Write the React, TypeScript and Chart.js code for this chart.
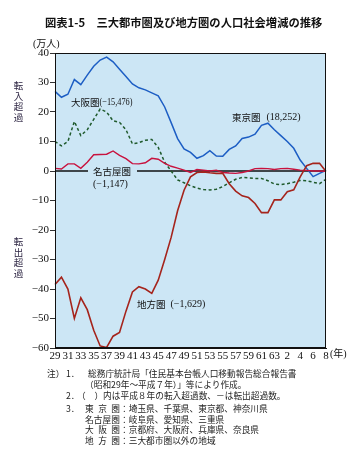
import React, { useEffect, useRef } from 'react';
import { Chart, registerables } from 'chart.js';

Chart.register(...registerables);

// 昭和29年〜昭和63年, 平成1年〜平成8年
const categories = [
  '29', '30', '31', '32', '33', '34', '35', '36', '37', '38', '39', '40', '41', '42', '43', '44', '45',
  '46', '47', '48', '49', '50', '51', '52', '53', '54', '55', '56', '57', '58', '59', '60', '61', '62', '63',
  '1', '2', '3', '4', '5', '6', '7', '8',
];

// 万人
const tokyo = [
  27, 25, 26, 31, 29.3, 32.5, 35.5, 37.6, 38.6, 37, 34.5, 32, 29.5, 28.2, 27.5, 26.5, 25.5, 21.7, 16.4, 11, 7.5,
  6.3, 4.3, 5.2, 6.9, 5.1, 5, 7.3, 8.5, 11, 11.5, 12.5, 15.5, 16.2, 14, 12, 10, 7.7, 3.7, 0.9, -1.9, -0.8, 0.2,
];
const osaka = [
  10, 8.5, 10, 16.8, 12, 14, 17.5, 21, 20, 17, 16.5, 14, 9.2, 9.6, 10.4, 10.7, 8, 3, 0, -3, -4,
  -5, -5.8, -6.3, -6.4, -6.2, -5.3, -4, -2.8, -2.2, -2.3, -2.5, -2.5, -3.3, -4.4, -4.6, -4.3, -3.8, -3.2, -3.3, -3.8, -4.3, -2.8,
];
const nagoya = [
  0.9, 0.7, 2.4, 2.4, 0.9, 3, 5.5, 5.6, 5.7, 6.8, 5.3, 4.2, 2.5, 2.4, 2.8, 4.3, 4, 2.6, 1.6, 1, 0.3,
  -0.5, 0.5, 0.3, 0, 0.3, -0.5, -0.7, -0.8, -0.5, 0, 0.8, 0.9, 0.8, 0.5, 0.8, 0.9, 0.6, 0.3, 0.2, 0, 0, -0.1,
];
const chiho = [
  -38.5, -36, -40, -50, -43, -47, -54, -59.3, -59.8, -56, -54.7, -47.5, -41, -39.2, -40, -41.5, -37, -30, -22.5, -13.5, -6.5,
  -2, -0.5, -0.3, -0.6, -0.8, -0.8, -4.3, -6.8, -8.4, -9, -11, -14.1, -14.1, -9.8, -9.8, -7, -6.4, -2, 1.8, 2.6, 2.6, -0.2,
];

const seriesNames = ['東京圏', '大阪圏', '名古屋圏', '地方圏'];
const seriesNotes = ['(18,252)', '(−15,476)', '(−1,147)', '(−1,629)'];
const yMin = -60;
const yMax = 40;
const yStep = 10;

const SERIF = "'Liberation Serif', 'Noto Sans CJK JP', serif";
const JP = "'Noto Sans CJK JP', sans-serif";
const PLOT_BG = '#cce6f5';

function drawPair(ctx: any, name: string, note: string, x: number, y: number, gap: number, noteW: number) {
  ctx.font = `9.5px ${JP}`;
  ctx.fillText(name, x, y);
  const w = ctx.measureText(name).width;
  ctx.font = `10px ${SERIF}`;
  ctx.fillText(note, x + w + gap, y, noteW);
}

const decor = {
  id: 'decor',
  beforeDraw(chart: any) {
    const { ctx, chartArea: a } = chart;
    ctx.save();
    ctx.fillStyle = PLOT_BG;
    ctx.fillRect(a.left, a.top, a.right - a.left, a.bottom - a.top);
    ctx.restore();
  },
  beforeDatasetsDraw(chart: any) {
    const { ctx, chartArea: a, scales } = chart;
    const y0 = scales.y.getPixelForValue(0);
    ctx.save();
    ctx.strokeStyle = '#111';
    ctx.lineWidth = 1.4;
    ctx.beginPath();
    ctx.moveTo(a.left, y0);
    ctx.lineTo(a.right, y0);
    ctx.stroke();
    ctx.restore();
  },
  afterDatasetsDraw(chart: any) {
    const { ctx, chartArea: a, scales } = chart;
    const y0 = scales.y.getPixelForValue(0);
    ctx.save();
    ctx.strokeStyle = '#111';
    ctx.lineWidth = 1;
    ctx.strokeRect(a.left + 0.5, a.top + 0.5, a.right - a.left - 1, a.bottom - a.top - 1);

    // label box for 名古屋圏 on the zero line
    ctx.fillStyle = PLOT_BG;
    ctx.fillRect(88, y0 - 6, 49, 12);

    ctx.fillStyle = '#111';
    ctx.textBaseline = 'middle';
    ctx.textAlign = 'left';
    drawPair(ctx, seriesNames[1], seriesNotes[1], 71, 102, 0, 33);
    drawPair(ctx, seriesNames[0], seriesNotes[0], 232, 117, 6, 35);
    drawPair(ctx, seriesNames[3], seriesNotes[3], 137, 304, 5, 40);
    ctx.font = `9.5px ${JP}`;
    ctx.fillText(seriesNames[2], 93, y0);
    ctx.font = `10px ${SERIF}`;
    ctx.fillText(seriesNotes[2], 93, y0 + 13, 37);

    ctx.font = `10px ${SERIF}`;
    ctx.fillText('(年)', 330, 354);
    ctx.restore();
  },
};

export default function App() {
  const ref = useRef<HTMLCanvasElement | null>(null);

  useEffect(() => {
    if (!ref.current) return;
    const chart = new Chart(ref.current, {
      type: 'line',
      data: {
        labels: categories,
        datasets: [
          {
            label: seriesNames[3],
            data: chiho,
            borderColor: '#a5241c',
            borderWidth: 1.6,
            pointRadius: 0,
            tension: 0,
          },
          {
            label: seriesNames[2],
            data: nagoya,
            borderColor: '#c8123e',
            borderWidth: 1.4,
            pointRadius: 0,
            tension: 0,
          },
          {
            label: seriesNames[1],
            data: osaka,
            borderColor: '#1f5a2c',
            borderWidth: 1.5,
            borderDash: [3, 2.5],
            pointRadius: 0,
            tension: 0,
          },
          {
            label: seriesNames[0],
            data: tokyo,
            borderColor: '#1d5ec4',
            borderWidth: 1.5,
            pointRadius: 0,
            tension: 0,
          },
        ],
      },
      options: {
        responsive: false,
        maintainAspectRatio: false,
        devicePixelRatio: 1,
        animation: false,
        events: [],
        layout: { autoPadding: false, padding: { top: 53, right: 34, bottom: 0, left: 0 } },
        plugins: {
          legend: { display: false },
          tooltip: { enabled: false },
          title: { display: false },
        },
        scales: {
          x: {
            type: 'category',
            grid: { display: false, drawTicks: false },
            border: { display: true, color: '#111', width: 1 },
            ticks: {
              autoSkip: false,
              maxRotation: 0,
              minRotation: 0,
              padding: 2,
              color: '#111',
              font: { family: SERIF, size: 11 },
              callback: (_v: any, i: number) => (i % 2 === 0 ? categories[i] : ''),
            },
            afterFit: (s: any) => {
              s.height = 110;
            },
          },
          y: {
            type: 'linear',
            min: yMin,
            max: yMax,
            grid: { drawOnChartArea: false, drawTicks: true, tickLength: 5, color: '#333' },
            border: { display: true, color: '#111', width: 1 },
            ticks: {
              stepSize: yStep,
              padding: 1,
              color: '#111',
              font: { family: SERIF, size: 11 },
              callback: (v: any) => (v < 0 ? '−' + Math.abs(v) : String(v)),
            },
            afterFit: (s: any) => {
              s.width = 55;
            },
          },
        },
      },
      plugins: [decor],
    });
    return () => chart.destroy();
  }, []);

  const abs = (extra: React.CSSProperties): React.CSSProperties => ({
    position: 'absolute',
    whiteSpace: 'nowrap',
    color: '#111',
    ...extra,
  });

  const noteStyle = (left: number, top: number): React.CSSProperties =>
    abs({ left, top, fontFamily: JP, fontSize: 8.7, lineHeight: '11px', color: '#222' });
  const keyBox: React.CSSProperties = {
    display: 'inline-block',
    width: 35,
    textAlign: 'justify',
    textAlignLast: 'justify' as any,
  };
  const stack = (text: string, top: number) => (
    <div style={abs({ left: 13, top, width: 11, textAlign: 'center', fontFamily: JP, fontSize: 9.5, lineHeight: '10.5px', color: '#2a2240', whiteSpace: 'normal' })}>
      {text.split('').map((c, i) => (
        <div key={i}>{c}</div>
      ))}
    </div>
  );

  return (
    <div style={{ position: 'absolute', left: 0, top: 0, width: 360, height: 458, background: '#fff', overflow: 'hidden' }}>
      <canvas ref={ref} width={360} height={458} style={{ display: 'block', position: 'absolute', left: 0, top: 0 }} />
      <div style={abs({ left: 45, top: 14, fontFamily: JP, fontWeight: 700, fontSize: 11.3, lineHeight: '16px' })}>
        図表1-5　三大都市圏及び地方圏の人口社会増減の推移
      </div>
      <div style={abs({ left: 33, top: 38, fontFamily: SERIF, fontSize: 10, lineHeight: '12px' })}>(万人)</div>
      {stack('転入超過', 80)}
      {stack('転出超過', 236)}

      <div style={noteStyle(47, 368)}>注）</div>
      <div style={noteStyle(66, 368)}>1．</div>
      <div style={noteStyle(88, 368)}>総務庁統計局「住民基本台帳人口移動報告総合報告書</div>
      <div style={noteStyle(85, 379)}>（昭和29年～平成７年）」等により作成。</div>
      <div style={noteStyle(66, 389.5)}>2．</div>
      <div style={noteStyle(77, 389.5)}>（　）内は平成８年の転入超過数、－は転出超過数。</div>
      <div style={noteStyle(66, 402.5)}>3．</div>
      <div style={noteStyle(85, 402.5)}>
        <span style={keyBox}>東京圏</span>：埼玉県、千葉県、東京都、神奈川県
      </div>
      <div style={noteStyle(85, 413.5)}>
        <span style={keyBox}>名古屋圏</span>：岐阜県、愛知県、三重県
      </div>
      <div style={noteStyle(85, 423.5)}>
        <span style={keyBox}>大阪圏</span>：京都府、大阪府、兵庫県、奈良県
      </div>
      <div style={noteStyle(85, 434.5)}>
        <span style={keyBox}>地方圏</span>：三大都市圏以外の地域
      </div>
    </div>
  );
}
